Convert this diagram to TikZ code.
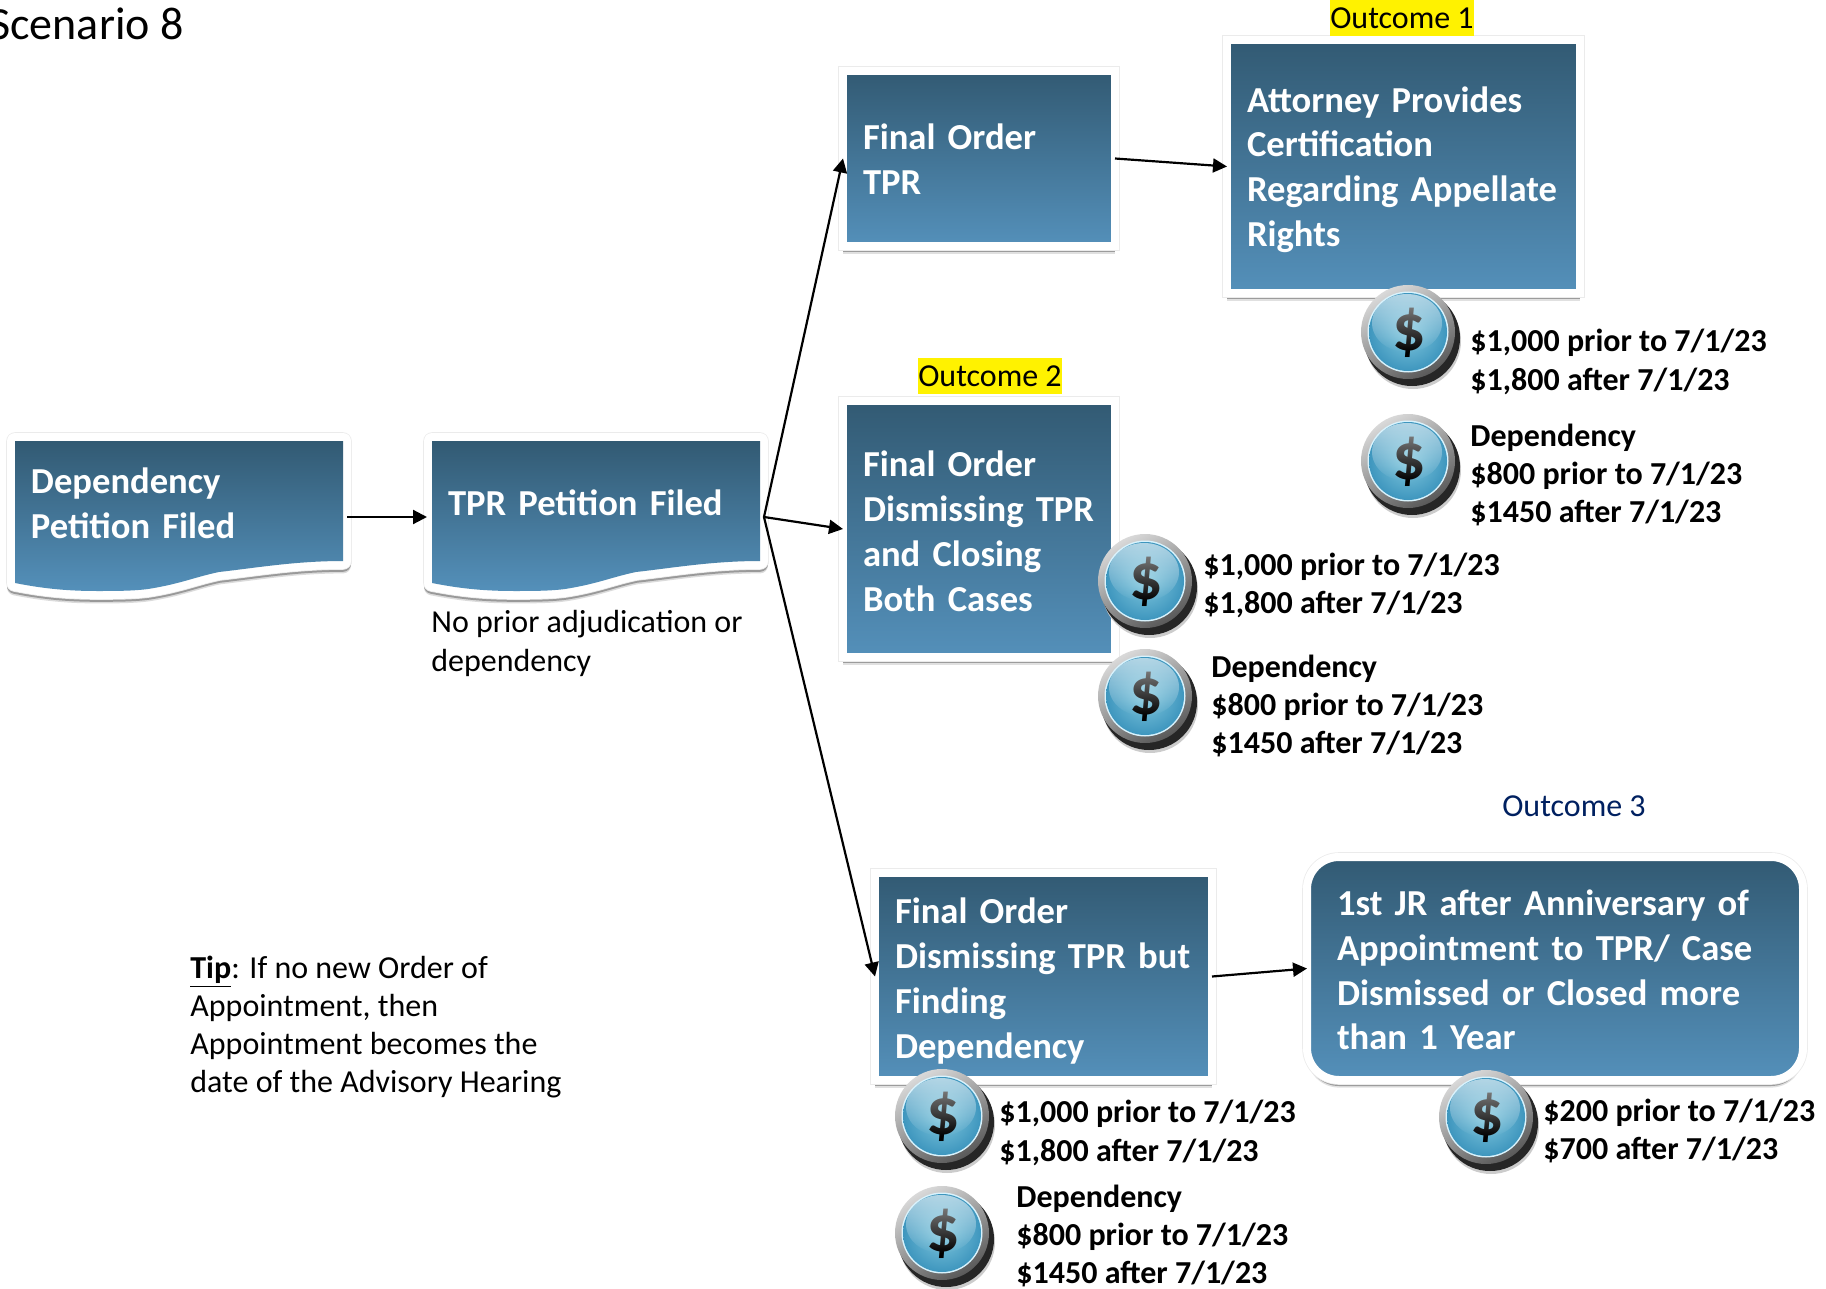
\documentclass[tikz,border=0pt]{standalone}
\usepackage{fontspec}
\setmainfont{Carlito}
\usepackage{xcolor}
\usetikzlibrary{calc,positioning,shadows,arrows.meta,fadings}
\definecolor{boxtop}{RGB}{50,90,115}
\definecolor{boxbottom}{RGB}{84,144,186}
\definecolor{outcomeblue}{RGB}{0,32,96}
\definecolor{coinlight}{RGB}{130,200,222}
\definecolor{coindark}{RGB}{62,150,190}
\tikzstyle{box}       = [draw=white, line width=4pt, outer sep=0pt, top color=boxtop, bottom color=boxbottom, text=white, align=left, inner ysep=0pt, inner xsep=10pt, font=\fontsize{18.3}{22.4}\selectfont\bfseries, drop shadow={shadow xshift=0pt, shadow yshift=-3.8pt, opacity=.12, fill=black}, drop shadow={shadow xshift=0pt, shadow yshift=-3pt, opacity=.3, fill=black}, preaction={draw=black!8, line width=4.8pt}]
\tikzstyle{docbox}    = [text=white, align=left, inner xsep=8pt, inner ysep=0pt, outer sep=0pt, font=\fontsize{18.3}{22.4}\selectfont\bfseries]
\tikzstyle{fee}       = [anchor=west, align=left, inner sep=0pt, font=\fontsize{16}{19.2}\selectfont\bfseries]
\tikzstyle{note}      = [anchor=west, align=left, inner sep=0pt, font=\fontsize{16}{19.1}\selectfont]
\tikzstyle{outcome}   = [inner sep=0pt, minimum height=18pt, font=\fontsize{16}{18}\selectfont]
\tikzstyle{arrow}     = [line width=1.1pt,-{Triangle[length=7pt,width=7pt]}]
\tikzset{
  wavedoc/.pic={
    \def\wavepath{(0,0) -- (328,0) -- (328,120) .. controls (280,120) and (240,127) .. (204,131) .. controls (180,136) and (165,143) .. (133,148) .. controls (118,150) and (100,150) .. (82,150) .. controls (55,150) and (30,148) .. (0,142) -- cycle}
    \draw[black!14, line width=8pt, line join=round, fill=black!14, yshift=-2.2pt] \wavepath;
    \draw[black!40, line width=8pt, line join=round, fill=black!40, yshift=-1.4pt] \wavepath;
    \draw[black!8, line width=8.8pt, line join=round] \wavepath;
    \draw[white, line width=8pt, line join=round, fill=white] \wavepath;
    \shade[top color=boxtop, bottom color=boxbottom] \wavepath;
  },
  coin/.pic={
    \fill[black!20] (5,9) circle (48);
    \fill[black!85] (4,6) circle (48);
    \shade[top color=black!15, bottom color=black!65, shading angle=30] (0,0) circle (47);
    \fill[white!85!cyan] (0,0) circle (40.5);
    \shade[inner color=coinlight, outer color=coindark] (0,0) circle (39);
    \node[inner sep=0pt, font=\fontsize{33}{33}\selectfont\bfseries] (sign) at (1,1) {\$};
    \fill[white, opacity=.6, path fading=south] (-1,-9) ellipse (35 and 29);
  }
}
\begin{document}
\begin{tikzpicture}[x=0.5pt,y=-0.5pt]
    \useasboundingbox (0,0) rectangle (1826,1289);

    \node[anchor=east, inner sep=0pt, font=\fontsize{23}{28}\selectfont] (title) at (184,24) {Scenario 8};

    % petitions
    \pic at (15,441) {wavedoc};
    \pic at (432,441) {wavedoc};
    \node[docbox, text width=148pt, minimum height=50pt] (dep) at (179,503) {Dependency\\Petition Filed};
    \node[docbox, text width=148pt, minimum height=50pt] (tpr) at (596,503) {TPR Petition Filed};
    \node[note] (prior) at (431,643.5) {No prior adjudication or\\dependency};

    % outcomes
    \node[box, text height=13.8pt, text width=116pt, minimum height=87.5pt] (ordertpr) at (979,158.5) {Final Order\\TPR};
    \node[box, text height=16pt, text width=156.5pt, minimum height=126.5pt] (attorney) at (1403.5,166.5) {Attorney Provides\\Certification\\Regarding Appellate\\Rights};
    \node[box, text height=15.3pt, text width=116pt, minimum height=128pt] (orderclosed) at (979,529) {Final Order\\Dismissing TPR\\and Closing\\Both Cases};
    \node[box, text height=17.2pt, text width=148.5pt, minimum height=103.5pt] (orderdep) at (1043.5,976.5) {Final Order\\Dismissing TPR but\\Finding\\Dependency};
    \node[box, rounded corners=16pt, inner xsep=15pt, text height=14.4pt, text width=218pt, minimum height=111.5pt] (review) at (1555,968.5) {1st JR after Anniversary of\\Appointment to TPR/ Case\\Dismissed or Closed more\\than 1 Year};

    \node[outcome, fill=yellow, minimum width=72pt] (outa) at (1402,18) {Outcome 1};
    \node[outcome, fill=yellow, minimum width=72pt] (outb) at (990,376) {Outcome 2};
    \node[outcome, text=outcomeblue] (outc) at (1574,806) {Outcome 3};

    % connectors
    \coordinate (hub) at ([shift={(4,14)}]tpr.east);
    \draw[arrow] ([shift={(4,14)}]dep.east) -- ([shift={(-5,14)}]tpr.west);
    \draw[arrow] (hub) -- (ordertpr.west);
    \draw[arrow] (hub) -- (orderclosed.west);
    \draw[arrow] (hub) -- (orderdep.west);
    \draw[arrow] (ordertpr.east) -- (attorney.west);
    \draw[arrow] (orderdep.east) -- (review.west);

    % fees
    \pic (coina) at (1408,332) {coin};
    \pic (coinb) at (1408,461) {coin};
    \pic (coinc) at (1145,581) {coin};
    \pic (coind) at (1145,696) {coin};
    \pic (coine) at (942,1116) {coin};
    \pic (coinf) at (942,1233) {coin};
    \pic (coing) at (1486,1117) {coin};

    \node[fee] (feea) at (1470,362) {\$1,000 prior to 7/1/23\\\$1,800 after 7/1/23};
    \node[fee] (feeb) at (1470,475) {Dependency\\\$800 prior to 7/1/23\\\$1450 after 7/1/23};
    \node[fee] (feec) at (1203,585.5) {\$1,000 prior to 7/1/23\\\$1,800 after 7/1/23};
    \node[fee] (feed) at (1211,706) {Dependency\\\$800 prior to 7/1/23\\\$1450 after 7/1/23};
    \node[fee] (feee) at (999,1133) {\$1,000 prior to 7/1/23\\\$1,800 after 7/1/23};
    \node[fee] (feef) at (1016,1236) {Dependency\\\$800 prior to 7/1/23\\\$1450 after 7/1/23};
    \node[fee] (feeg) at (1543,1131) {\$200 prior to 7/1/23\\\$700 after 7/1/23};

    \node[note] (tip) at (190,1027) {\underline{\textbf{Tip}}: If no new Order of\\Appointment, then\\Appointment becomes the\\date of the Advisory Hearing};
\end{tikzpicture}
\end{document}
